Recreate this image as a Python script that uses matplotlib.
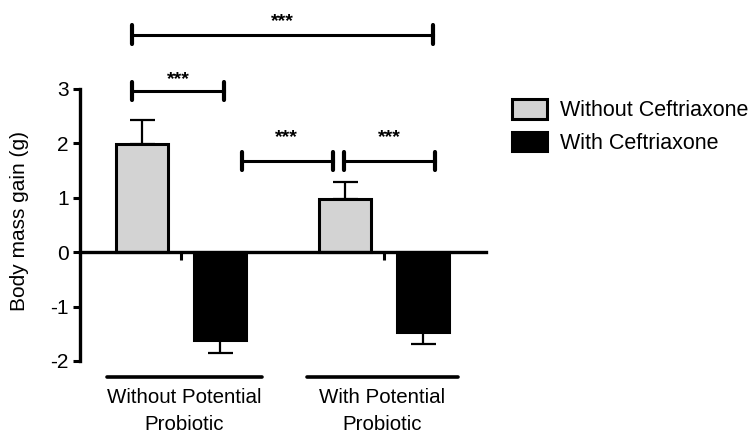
import matplotlib
matplotlib.use("Agg")
import matplotlib.pyplot as plt

# --- data ---
groups = ["Without Potential\nProbiotic", "With Potential\nProbiotic"]
series = ["Without Ceftriaxone", "With Ceftriaxone"]
means = [1.98, -1.62, 0.98, -1.46]
errs = [0.45, 0.24, 0.31, 0.23]
yticks = [-2, -1, 0, 1, 2, 3]
# significance brackets: (x left, x right, y), stars (x, y)
brackets = [(-0.12, 3.73, 4.0), (-0.12, 1.05, 2.96), (1.28, 2.45, 1.68), (2.59, 3.76, 1.68)]
star_pos = [(1.8, 4.24), (0.47, 3.17), (1.86, 2.10), (3.17, 2.10)]

xpos = [0, 1, 2.6, 3.6]
group_centers = [0.5, 3.1]
group_lines = [(-0.44, 1.54), (2.12, 4.05)]
GRAY = "#d3d3d3"
colors = [GRAY, "black", GRAY, "black"]

plt.rcParams["font.family"] = ["Liberation Sans", "DejaVu Sans"]
fig = plt.figure(figsize=(7.55, 4.34), dpi=100)
ax = fig.add_axes([80 / 755, 1 - 361 / 434, 406 / 755, 272 / 434])

for i, (x, m, e, c) in enumerate(zip(xpos, means, errs, colors)):
    lo, hi = (0, e) if m > 0 else (e, 0)
    ax.errorbar(x, m, yerr=[[lo], [hi]], fmt="none", ecolor="black",
                elinewidth=1.6, capsize=9, capthick=1.6, zorder=2)
    ax.bar(x, m, width=0.67, color=c, edgecolor="black", linewidth=2.2,
           zorder=3, label=series[i % 2] if i < 2 else None)

ax.set_xlim(-0.79, 4.41)
ax.set_ylim(-2, 3)
ax.set_yticks(yticks)
ax.set_yticklabels([str(v) for v in yticks], fontsize=15)
ax.set_xticks(group_centers)
ax.set_xticklabels([])
for s in ["top", "right"]:
    ax.spines[s].set_visible(False)
ax.spines["left"].set_linewidth(2.4)
ax.spines["bottom"].set_position(("data", 0))
ax.spines["bottom"].set_linewidth(2.4)
ax.spines["bottom"].set_zorder(4)
ax.tick_params(axis="y", length=5, width=2.2, pad=3)
ax.tick_params(axis="x", length=6, width=2.2)

# brackets
for x0, x1, y in brackets:
    ax.plot([x0, x1], [y, y], color="black", lw=2.2, clip_on=False)
    for xe in (x0, x1):
        ax.plot([xe, xe], [y - 0.17, y + 0.17], color="black", lw=3,
                solid_capstyle="round", clip_on=False)
for x, y in star_pos:
    ax.text(x, y, "***", ha="center", va="center", fontsize=14,
            fontweight="bold")

# group lines and labels
for (x0, x1), xc, lab in zip(group_lines, group_centers, groups):
    ax.plot([x0, x1], [-2.3, -2.3], color="black", lw=2.6,
            solid_capstyle="round", clip_on=False)
    ax.text((x0 + x1) / 2, -2.5, lab, ha="center", va="top", fontsize=14.8,
            linespacing=1.5)

fig.text(20 / 755, 1 - 221 / 434, "Body mass gain (g)", rotation=90,
         ha="center", va="center", fontsize=15)

ax.legend(loc="upper left", bbox_to_anchor=(493 / 755, 1 - 80 / 434),
          bbox_transform=fig.transFigure, frameon=False, fontsize=15.5,
          handlelength=1.6, handleheight=1.0, labelspacing=0.5,
          handletextpad=0.6)

fig.savefig("out.png", dpi=100)
